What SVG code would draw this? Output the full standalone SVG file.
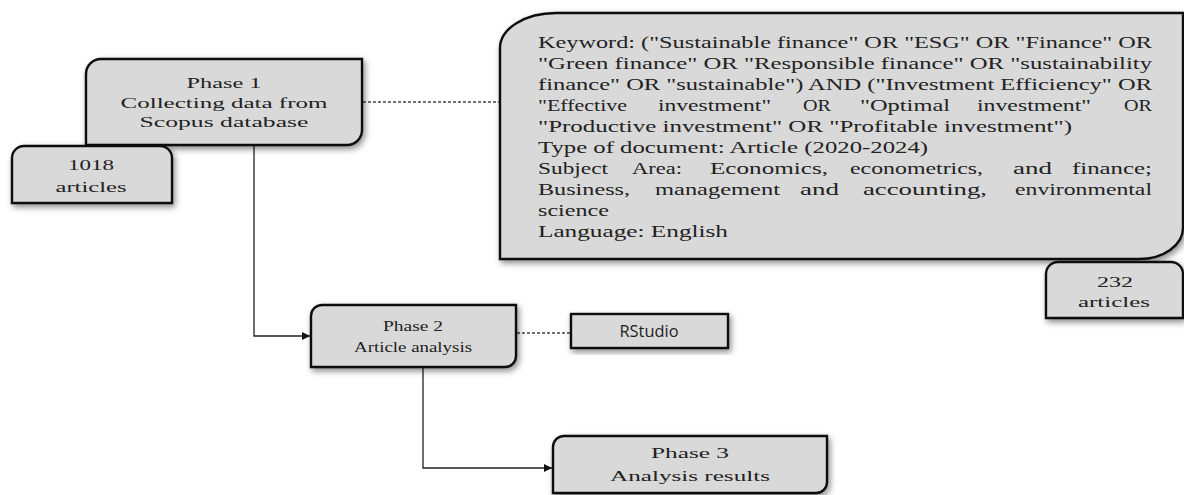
<svg xmlns="http://www.w3.org/2000/svg" width="1184" height="495" viewBox="0 0 1184 495">
<defs>
<filter id="sh" x="-10%" y="-10%" width="125%" height="130%">
<feDropShadow dx="2" dy="3" stdDeviation="3" flood-color="#000" flood-opacity="0.45"/>
</filter>
<marker id="arr" viewBox="0 0 10 10" refX="10" refY="5" markerWidth="9" markerHeight="8" markerUnits="userSpaceOnUse" orient="auto">
<path d="M0,0 L10,5 L0,10 Z" fill="#111"/>
</marker>
</defs>
<style>
.box{fill:#d9d9d9;stroke:#111;stroke-width:2.4;filter:url(#sh)}
.t{font-family:"Liberation Serif","Times New Roman",serif;font-size:15.5px;fill:#222;text-anchor:middle}
.k{font-family:"Liberation Serif","Times New Roman",serif;font-size:16.5px;fill:#222}
.s{font-family:"Open Sans","Liberation Sans",sans-serif;font-size:16px;fill:#222;text-anchor:middle}
.c{fill:none;stroke:#222;stroke-width:1.3}
.d{fill:none;stroke:#444;stroke-width:1.3;stroke-dasharray:3 2}
</style>
<g id="connectors">
<path class="c" d="M254,146 V336 H310" marker-end="url(#arr)"/>
<path class="c" d="M423,368 V468 H552" marker-end="url(#arr)"/>
<path class="d" d="M363,102 H499"/>
<path class="d" d="M517,333 H570"/>
</g>
<g id="keyword">
<path class="box" d="M500,48 A56,35 0 0 1 556,13 L1183,13 L1183,228 A44,31 0 0 1 1139,259 L500,259 Z"/>
<text class="k" x="538" y="48" textLength="614" lengthAdjust="spacingAndGlyphs">Keyword:  ("Sustainable finance" OR "ESG" OR "Finance" OR</text>
<text class="k" x="538" y="69" textLength="614" lengthAdjust="spacingAndGlyphs">"Green finance" OR "Responsible finance" OR "sustainability</text>
<text class="k" x="538" y="90" textLength="614" lengthAdjust="spacingAndGlyphs">finance" OR "sustainable") AND ("Investment Efficiency" OR</text>
<text class="k" x="538" y="111" textLength="89" lengthAdjust="spacingAndGlyphs">"Effective</text>
<text class="k" x="658" y="111" textLength="113" lengthAdjust="spacingAndGlyphs">investment"</text>
<text class="k" x="803" y="111" textLength="28" lengthAdjust="spacingAndGlyphs">OR</text>
<text class="k" x="860" y="111" textLength="90" lengthAdjust="spacingAndGlyphs">"Optimal</text>
<text class="k" x="977" y="111" textLength="114" lengthAdjust="spacingAndGlyphs">investment"</text>
<text class="k" x="1124" y="111" textLength="28" lengthAdjust="spacingAndGlyphs">OR</text>
<text class="k" x="538" y="132" textLength="534" lengthAdjust="spacingAndGlyphs">"Productive investment" OR "Profitable investment")</text>
<text class="k" x="538" y="153" textLength="390" lengthAdjust="spacingAndGlyphs">Type of document:  Article (2020-2024)</text>
<text class="k" x="538" y="174" textLength="70" lengthAdjust="spacingAndGlyphs">Subject</text>
<text class="k" x="632" y="174" textLength="50" lengthAdjust="spacingAndGlyphs">Area:</text>
<text class="k" x="710" y="174" textLength="118" lengthAdjust="spacingAndGlyphs">Economics,</text>
<text class="k" x="850" y="174" textLength="133" lengthAdjust="spacingAndGlyphs">econometrics,</text>
<text class="k" x="1013" y="174" textLength="39" lengthAdjust="spacingAndGlyphs">and</text>
<text class="k" x="1072" y="174" textLength="80" lengthAdjust="spacingAndGlyphs">finance;</text>
<text class="k" x="538" y="195" textLength="92" lengthAdjust="spacingAndGlyphs">Business,</text>
<text class="k" x="655" y="195" textLength="125" lengthAdjust="spacingAndGlyphs">management</text>
<text class="k" x="800" y="195" textLength="39" lengthAdjust="spacingAndGlyphs">and</text>
<text class="k" x="863" y="195" textLength="124" lengthAdjust="spacingAndGlyphs">accounting,</text>
<text class="k" x="1015" y="195" textLength="137" lengthAdjust="spacingAndGlyphs">environmental</text>
<text class="k" x="538" y="216" textLength="71" lengthAdjust="spacingAndGlyphs">science</text>
<text class="k" x="538" y="237" textLength="190" lengthAdjust="spacingAndGlyphs">Language: English</text>
</g>
<g id="phase1">
<path class="box" d="M86,74 A15,15 0 0 1 101,59 L362,59 L362,130 A15,15 0 0 1 347,145 L86,145 Z"/>
<text class="t" x="224" y="88" textLength="75" lengthAdjust="spacingAndGlyphs">Phase 1</text>
<text class="t" x="224" y="108" textLength="207" lengthAdjust="spacingAndGlyphs">Collecting data from</text>
<text class="t" x="224" y="127" textLength="169" lengthAdjust="spacingAndGlyphs">Scopus database</text>
</g>
<g id="count1018">
<path class="box" d="M12,158 A12,12 0 0 1 24,146 L160,146 A12,12 0 0 1 172,158 L172,203 L12,203 Z"/>
<text class="t" x="91" y="170" textLength="46" lengthAdjust="spacingAndGlyphs">1018</text>
<text class="t" x="91" y="192" textLength="71" lengthAdjust="spacingAndGlyphs">articles</text>
</g>
<g id="count232">
<path class="box" d="M1046,274 A12,12 0 0 1 1058,262 L1171,262 A12,12 0 0 1 1183,274 L1183,318 L1046,318 Z"/>
<text class="t" x="1115" y="287" textLength="36" lengthAdjust="spacingAndGlyphs">232</text>
<text class="t" x="1114" y="307" textLength="72" lengthAdjust="spacingAndGlyphs">articles</text>
</g>
<g id="phase2">
<path class="box" d="M311,316 A11,11 0 0 1 322,305 L516,305 L516,356 A11,11 0 0 1 505,367 L311,367 Z"/>
<text class="t" x="413" y="331" textLength="60" lengthAdjust="spacingAndGlyphs">Phase 2</text>
<text class="t" x="413" y="352" textLength="118" lengthAdjust="spacingAndGlyphs">Article analysis</text>
</g>
<g id="rstudio">
<rect class="box" x="571" y="314" width="157" height="34"/>
<text class="s" x="649" y="337" textLength="59" lengthAdjust="spacingAndGlyphs">RStudio</text>
</g>
<g id="phase3">
<path class="box" d="M553,447 A11,11 0 0 1 564,436 L827,436 L827,482 A11,11 0 0 1 816,493 L553,493 Z"/>
<text class="t" x="690" y="458" textLength="78" lengthAdjust="spacingAndGlyphs">Phase 3</text>
<text class="t" x="690" y="481" textLength="160" lengthAdjust="spacingAndGlyphs">Analysis results</text>
</g>
</svg>
